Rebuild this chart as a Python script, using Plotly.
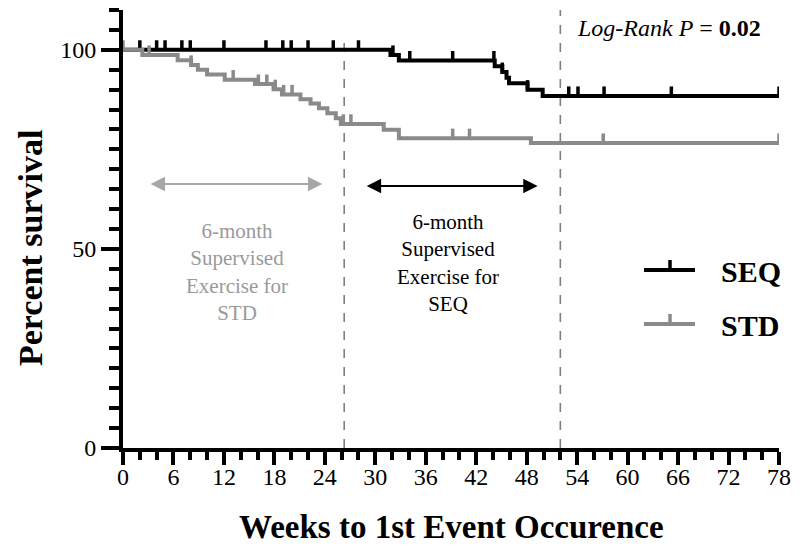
import numpy as np
import plotly.graph_objects as go

# ---------------- data ----------------
seq_event_weeks = [31.8, 32.8, 44.2, 45.1, 45.6, 45.9, 48.1, 49.9]
seq_survival = [98.7, 97.3, 95.9, 94.4, 93.0, 91.6, 90.0, 88.4]
seq_censor_weeks = [2, 4, 5, 7, 8, 12, 17, 19, 20, 22, 25, 28, 32.1, 34.1, 39.2,
                    44.1, 45.1, 48.1, 53, 54.1, 57.2, 65.2, 78]

std_event_weeks = [2.3, 6.5, 8.1, 8.9, 10.0, 12.1, 15.7, 17.9, 18.9, 21.1, 22.3,
                   23.3, 24.3, 25.3, 25.9, 31.0, 32.8, 48.5]
std_survival = [98.7, 97.4, 96.2, 95.0, 93.8, 92.5, 91.4, 90.1, 88.8, 87.6, 86.5,
                85.3, 84.1, 82.8, 81.4, 79.9, 77.8, 76.6]
std_censor_weeks = [0, 3.1, 8.1, 13.1, 16.1, 17.1, 18.1, 19.1, 20.1, 26.2, 27.1,
                    39.2, 41.2, 57.1, 78]

x_tick_vals = list(range(0, 79, 6))
x_tick_labels = [str(v) for v in x_tick_vals]
y_tick_vals = [0, 50, 100]
y_tick_labels = ["0", "50", "100"]

period_lines = [26.3, 52.0]
period_line_tops = [104, 110]
max_week = 78
censor_height = 2.4

SEQ_COLOR = "#000000"
STD_COLOR = "#8a8a8a"
FONT = "Liberation Serif"


def step_curve(ev_t, ev_s):
    x = [0] + list(ev_t) + [max_week]
    y = [100] + list(ev_s) + [ev_s[-1]]
    return x, y


def level_at(t, ev_t, ev_s):
    idx = np.searchsorted(np.array(ev_t), t, side="right")
    return 100.0 if idx == 0 else ev_s[idx - 1]


def censor_segments(cw, ev_t, ev_s):
    xs, ys = [], []
    for t in cw:
        s = level_at(t, ev_t, ev_s)
        xs += [t, t, None]
        ys += [s, s + censor_height, None]
    return xs, ys


fig = go.Figure()

for name, ev_t, ev_s, cw, col in [
    ("SEQ", seq_event_weeks, seq_survival, seq_censor_weeks, SEQ_COLOR),
    ("STD", std_event_weeks, std_survival, std_censor_weeks, STD_COLOR),
]:
    cx, cy = step_curve(ev_t, ev_s)
    fig.add_trace(go.Scatter(x=cx, y=cy, mode="lines", line=dict(color=col, width=4, shape="hv"),
                             name=name, showlegend=False, hoverinfo="skip"))
    tx, ty = censor_segments(cw, ev_t, ev_s)
    fig.add_trace(go.Scatter(x=tx, y=ty, mode="lines", line=dict(color=col, width=3.5),
                             showlegend=False, hoverinfo="skip"))

# dashed period lines
for xv, top in zip(period_lines, period_line_tops):
    fig.add_shape(type="line", x0=xv, x1=xv, y0=0, y1=top, xref="x", yref="y",
                  line=dict(color="#7f7f7f", width=1.6, dash="dash"), layer="below")

# double-headed arrows
fig.add_annotation(x=23.7, y=66.3, ax=3.1, ay=66.3, xref="x", yref="y", axref="x", ayref="y",
                   text="", showarrow=True, arrowhead=2, startarrowhead=2, arrowside="end+start",
                   arrowsize=1.6, startarrowsize=1.6, arrowwidth=1.8, arrowcolor="#a6a6a6")
fig.add_annotation(x=49.3, y=65.8, ax=28.8, ay=65.8, xref="x", yref="y", axref="x", ayref="y",
                   text="", showarrow=True, arrowhead=2, startarrowhead=2, arrowside="end+start",
                   arrowsize=1.6, startarrowsize=1.6, arrowwidth=1.8, arrowcolor="#000000")

fig.add_annotation(x=13.6, y=44.2, xref="x", yref="y", showarrow=False,
                   xanchor="center", yanchor="middle",
                   text="6-month<br>Supervised<br>Exercise for<br>STD",
                   font=dict(family=FONT, size=21, color="#9a9a9a"), align="center")
fig.add_annotation(x=38.6, y=46.5, xref="x", yref="y", showarrow=False,
                   xanchor="center", yanchor="middle",
                   text="6-month<br>Supervised<br>Exercise for<br>SEQ",
                   font=dict(family=FONT, size=21, color="#000000"), align="center")

fig.add_annotation(x=64.9, y=105.6, xref="x", yref="y", showarrow=False,
                   xanchor="center", yanchor="middle",
                   text="<i>Log-Rank P</i> = <b>0.02</b>",
                   font=dict(family=FONT, size=24, color="#000000"))

# legend (drawn manually)
def px_to_paper(px, py):
    return (px - 123) / 656, (448 - py) / 438

for label, col, py in [("SEQ", SEQ_COLOR, 270), ("STD", STD_COLOR, 324)]:
    x0, y0 = px_to_paper(644, py)
    x1, _ = px_to_paper(695, py)
    xm, _ = px_to_paper(670, py)
    _, yt = px_to_paper(670, py - 10)
    fig.add_shape(type="line", xref="paper", yref="paper", x0=x0, x1=x1, y0=y0, y1=y0,
                  line=dict(color=col, width=4))
    fig.add_shape(type="line", xref="paper", yref="paper", x0=xm, x1=xm, y0=y0, y1=yt,
                  line=dict(color=col, width=3.5))
    tx, ty = px_to_paper(719, py + 1)
    fig.add_annotation(x=tx, y=ty, xref="paper", yref="paper", showarrow=False,
                       text="<b>" + label + "</b>", xanchor="left", yanchor="middle",
                       font=dict(family=FONT, size=30, color="#000000"))

# axis titles
fig.add_annotation(x=(30 - 123) / 656, y=(448 - 248) / 438, xref="paper", yref="paper",
                   showarrow=False, text="<b>Percent survival</b>", textangle=-90,
                   xanchor="center", yanchor="middle",
                   font=dict(family=FONT, size=34, color="#000000"))
fig.add_annotation(x=(452 - 123) / 656, y=(448 - 527) / 438, xref="paper", yref="paper",
                   showarrow=False, text="<b>Weeks to 1st Event Occurence</b>",
                   xanchor="center", yanchor="middle",
                   font=dict(family=FONT, size=33, color="#000000"))

fig.update_layout(
    width=800, height=557,
    margin=dict(l=123, r=21, t=10, b=109),
    plot_bgcolor="white", paper_bgcolor="white",
    font=dict(family=FONT, size=24, color="#000000"),
    xaxis=dict(range=[0, max_week], tickvals=x_tick_vals, ticktext=x_tick_labels,
               showgrid=False, zeroline=False, showline=True, linecolor="black", linewidth=4,
               ticks="outside", ticklen=13, tickwidth=3.5, tickcolor="black",
               ticklabelstandoff=-9,
               minor=dict(dtick=2, ticks="outside", ticklen=8, tickwidth=3.5, tickcolor="black"),
               tickfont=dict(family=FONT, size=24)),
    yaxis=dict(range=[0, 110], tickvals=y_tick_vals, ticktext=y_tick_labels,
               showgrid=False, zeroline=False, showline=True, linecolor="black", linewidth=4,
               ticks="outside", ticklen=18, tickwidth=3.5, tickcolor="black",
               minor=dict(dtick=5, ticks="outside", ticklen=10, tickwidth=3.5, tickcolor="black"),
               tickfont=dict(family=FONT, size=24)),
)

fig.write_html("out.html", post_script="document.body.style.margin='0';",
               config={"displayModeBar": False})
